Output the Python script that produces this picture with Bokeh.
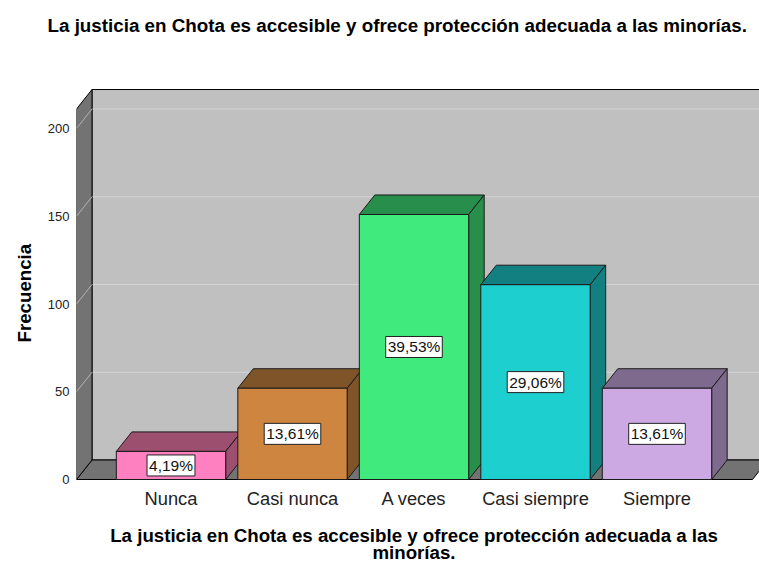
from bokeh.plotting import figure
from bokeh.models import Range1d, FixedTicker, ColumnDataSource, Title
from bokeh.core.properties import value
from bokeh.embed import file_html
from bokeh.resources import INLINE

# ---- data ----
categories = ["Nunca", "Casi nunca", "A veces", "Casi siempre", "Siempre"]
frequencies = [16, 52, 151, 111, 52]
percent_labels = ["4,19%", "13,61%", "39,53%", "29,06%", "13,61%"]
y_ticks = [0, 50, 100, 150, 200]
title_text = "La justicia en Chota es accesible y ofrece protección adecuada a las minorías."
x_title_lines = ["La justicia en Chota es accesible y ofrece protección adecuada a las",
                 "minorías."]
y_title = "Frecuencia"

front_colors = ["#FF80C0", "#CD853F", "#40EA7C", "#1ECFCF", "#CDA9E3"]
side_colors = ["#9C4F6E", "#7E5428", "#278E4B", "#128080", "#7E6A8D"]

FONT = "Liberation Sans"

# ---- geometry ----
W, H = 759, 562
FRAME_L, FRAME_T = 76, 40          # pixels
ZERO_Y = 479                       # pixel row of frequency 0
PX_X = 121.5                       # pixels per category step
PX_Y = 1.755                       # pixels per frequency unit
X0 = -0.7778
X1 = X0 + (W - FRAME_L) / PX_X
Y0 = -(H - ZERO_Y) / PX_Y
Y1 = (ZERO_Y - FRAME_T) / PX_Y
X_FLOOR = X0 + 676 / PX_X
Y_TOP_FRONT = 211.1
DX = 15.5 / PX_X
DY = 19.5 / PX_Y
HW = 0.45
BASE_SHIFT = 7                     # alphabetic baseline correction, px

p = figure(width=W, height=H, output_backend="svg", toolbar_location=None,
           x_range=Range1d(X0, X1), y_range=Range1d(Y0, Y1),
           min_border_left=FRAME_L, min_border_right=0, min_border_top=FRAME_T,
           min_border_bottom=0)
p.background_fill_color = "white"
p.border_fill_color = "white"
p.outline_line_color = None
p.xgrid.visible = False
p.ygrid.visible = False
p.xaxis.visible = False

# walls
wall_line = "#000000"
p.patch([X0 + DX, X1 + 1, X1 + 1, X0 + DX],
        [DY, DY, Y_TOP_FRONT + DY, Y_TOP_FRONT + DY],
        fill_color="#C0C0C0", line_color=wall_line, line_width=1)
for v in y_ticks[1:]:
    p.line([X0 + DX, X1 + 1], [v + DY, v + DY], line_color="#D4D4D4", line_width=1)
p.patch([X0, X_FLOOR, X_FLOOR + DX, X0 + DX], [0, 0, DY, DY],
        fill_color="#737373", line_color=wall_line, line_width=1)
p.patch([X0, X0 + DX, X0 + DX, X0], [0, DY, Y_TOP_FRONT + DY, Y_TOP_FRONT],
        fill_color="#737373", line_color=wall_line, line_width=1)
for v in y_ticks[1:]:
    p.line([X0, X0 + DX], [v, v + DY], line_color="#B4B4B4", line_width=1)

# bars
for i, h in enumerate(frequencies):
    l, r = i - HW, i + HW
    p.patch([l, r, r + DX, l + DX], [h, h, h + DY, h + DY],
            fill_color=side_colors[i], line_color="#1A1A1A", line_width=1)
    p.patch([r, r + DX, r + DX, r], [0, DY, h + DY, h],
            fill_color=side_colors[i], line_color="#1A1A1A", line_width=1)
    p.patch([l, r, r, l], [0, 0, h, h],
            fill_color=front_colors[i], line_color="#1A1A1A", line_width=1)

src = ColumnDataSource(dict(x=list(range(len(categories))),
                            y=[f / 2 for f in frequencies],
                            t=percent_labels))
p.text(x="x", y="y", text="t", source=src, text_align="center",
       text_baseline="middle", text_font=value(FONT), text_font_size="15.5px",
       text_color="#111111", background_fill_color="white",
       border_line_color="#222222", border_line_width=1, padding=2)

def ypix(row):
    return (ZERO_Y - row) / PX_Y

# category labels under the floor
cat_src = ColumnDataSource(dict(x=list(range(len(categories))),
                                y=[ypix(505 - BASE_SHIFT)] * len(categories),
                                t=categories))
p.text(x="x", y="y", text="t", source=cat_src, text_align="center",
       text_baseline="alphabetic", text_font=value(FONT), text_font_size="18.3px",
       text_color="#222222")

# x title (two lines)
xt_src = ColumnDataSource(dict(x=[2.0, 2.0],
                               y=[ypix(542 - BASE_SHIFT), ypix(559 - BASE_SHIFT)],
                               t=x_title_lines))
p.text(x="x", y="y", text="t", source=xt_src, text_align="center",
       text_baseline="alphabetic", text_font=value(FONT), text_font_size="18.7px",
       text_font_style="bold", text_color="black")

# y axis
p.yaxis.ticker = FixedTicker(ticks=y_ticks)
p.yaxis.axis_line_color = None
p.yaxis.major_tick_line_color = None
p.yaxis.minor_tick_line_color = None
p.yaxis.major_label_text_font = FONT
p.yaxis.major_label_text_font_size = "13px"
p.yaxis.major_label_text_color = "#222222"
p.yaxis.major_label_standoff = 1

ytitle = Title(text=y_title, align="left", offset=H - 342, vertical_align="top",
               standoff=15, text_font=FONT, text_font_size="18.7px",
               text_font_style="bold", text_color="black")
p.add_layout(ytitle, "left")

p.title.text = title_text
p.title.align = "left"
p.title.offset = 47 - FRAME_L
p.title.text_font = FONT
p.title.text_font_size = "18.8px"
p.title.text_font_style = "bold"
p.title.text_color = "black"

open("out.html", "w").write(file_html(p, INLINE))
